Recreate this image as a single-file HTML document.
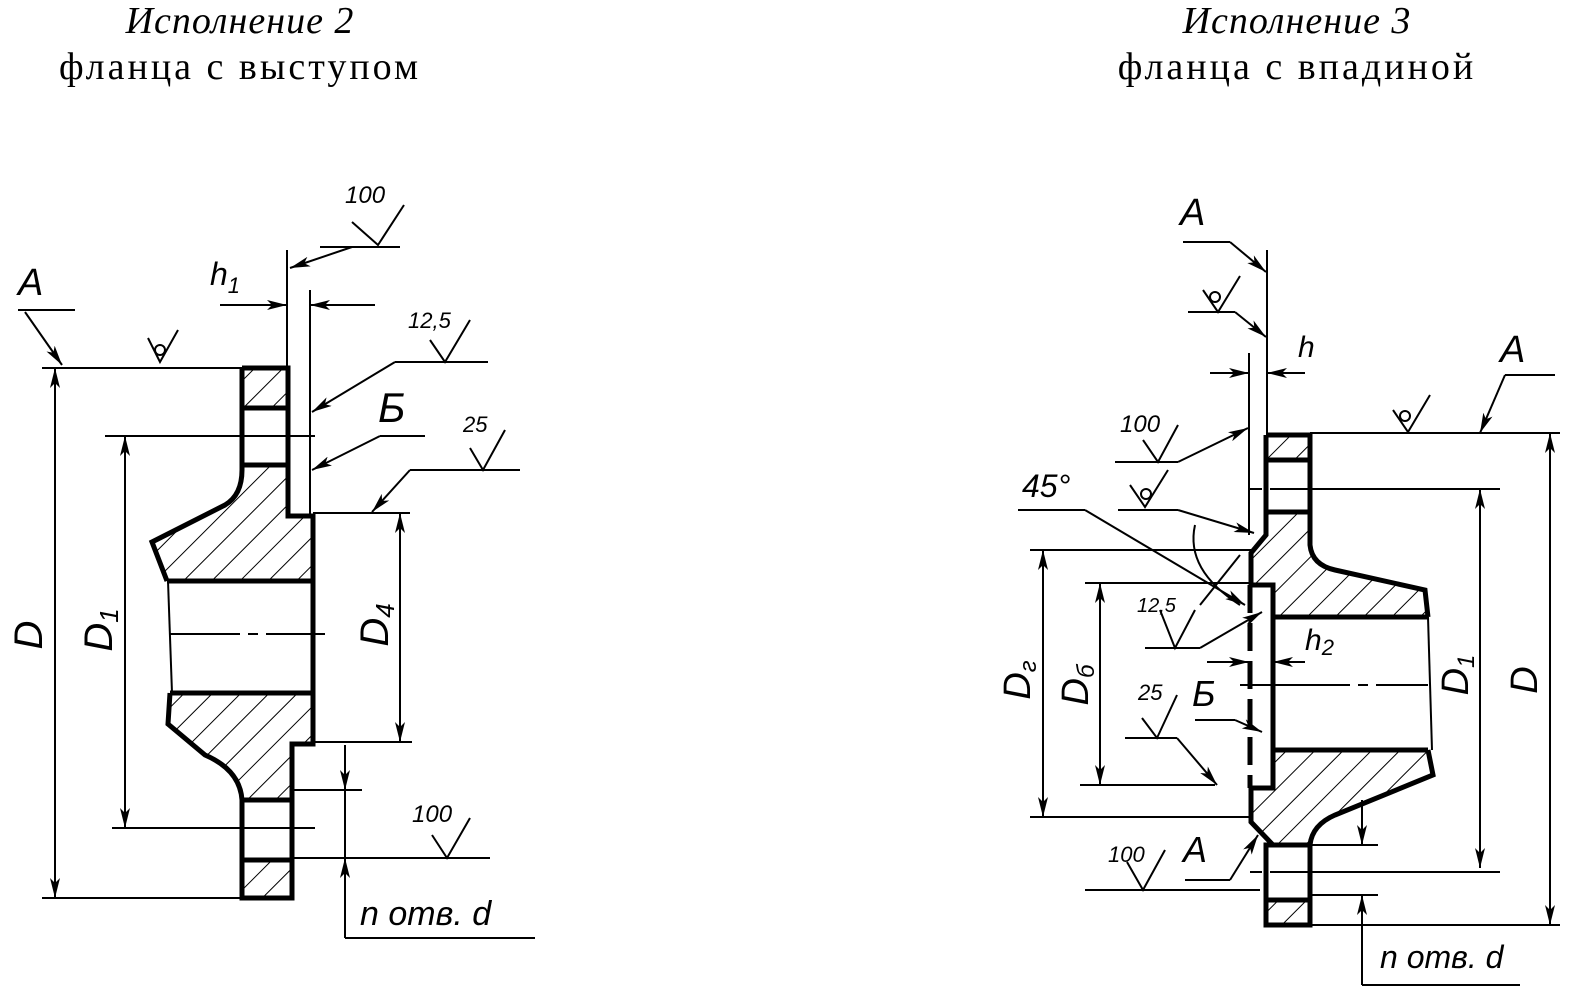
<!DOCTYPE html>
<html><head><meta charset="utf-8"><style>
html,body{margin:0;padding:0;background:#fff;}
svg{display:block}
.t{font-family:"Liberation Serif","DejaVu Serif",serif;fill:#000}
.i{font-family:"Liberation Sans","DejaVu Sans",sans-serif;font-style:italic;fill:#000}
</style></head><body>
<svg width="1577" height="998" viewBox="0 0 1577 998" xmlns="http://www.w3.org/2000/svg">
<defs>
<pattern id="h" patternUnits="userSpaceOnUse" width="20" height="20" patternTransform="rotate(45)">
<line x1="0" y1="0" x2="0" y2="20" stroke="#000" stroke-width="2"/>
</pattern>
<marker id="a" viewBox="0 0 20 10" refX="20" refY="5" markerWidth="20" markerHeight="10" markerUnits="userSpaceOnUse" orient="auto">
<path d="M0,0 L20,5 L0,10 L5,5 Z" fill="#000"/>
</marker>
</defs>

<!-- Titles -->
<text class="t" x="240" y="33" text-anchor="middle" font-style="italic" font-size="38" letter-spacing="1">Исполнение 2</text>
<text class="t" x="240" y="79" text-anchor="middle" font-size="38" letter-spacing="3">фланца с выступом</text>
<text class="t" x="1297" y="33" text-anchor="middle" font-style="italic" font-size="38" letter-spacing="1">Исполнение 3</text>
<text class="t" x="1297" y="79" text-anchor="middle" font-size="38" letter-spacing="3">фланца с впадиной</text>

<g stroke="#000" fill="none" stroke-width="2">
<!-- ===== LEFT FLANGE ===== -->
<g fill="url(#h)" stroke="none">
<rect x="242" y="368" width="46" height="40"/>
<rect x="242" y="860" width="50" height="38"/>
<path d="M242,465 L288,465 L288,516 L313,516 L313,581 L167,581 L152,542 L225,505 Q242,495 242,470 Z"/>
<path d="M170,693 L313,693 L313,744 L292,744 L292,800 L242,800 Q240,770 205,755 L168,724 Z"/>
</g>
<g stroke-width="5">
<path d="M242,368 L288,368 L288,516 L313,516 L313,744 L292,744 L292,898 L242,898 L242,800 Q240,770 205,755 L168,724 L170,693"/>
<path d="M242,368 L242,470 Q242,495 225,505 L152,542 L167,581"/>
<line x1="167" y1="581" x2="313" y2="581"/>
<line x1="170" y1="693" x2="313" y2="693"/>
<line x1="242" y1="408" x2="288" y2="408"/>
<line x1="242" y1="465" x2="288" y2="465"/>
<line x1="242" y1="800" x2="292" y2="800"/>
<line x1="242" y1="860" x2="292" y2="860"/>
</g>
<line x1="168" y1="581" x2="172" y2="693"/>
<line x1="170" y1="634" x2="325" y2="634" stroke-dasharray="70,8,10,8"/>
<line x1="42" y1="368" x2="242" y2="368"/>
<line x1="42" y1="898" x2="242" y2="898"/>
<line x1="105" y1="436" x2="315" y2="436"/>
<line x1="112" y1="828" x2="315" y2="828"/>
<line x1="313" y1="513" x2="410" y2="513"/>
<line x1="313" y1="742" x2="412" y2="742"/>
<line x1="292" y1="790" x2="362" y2="790"/>
<line x1="292" y1="858" x2="490" y2="858"/>
<line x1="55" y1="630" x2="55" y2="368" marker-end="url(#a)"/>
<line x1="55" y1="630" x2="55" y2="898" marker-end="url(#a)"/>
<line x1="125" y1="630" x2="125" y2="436" marker-end="url(#a)"/>
<line x1="125" y1="630" x2="125" y2="828" marker-end="url(#a)"/>
<line x1="400" y1="630" x2="400" y2="513" marker-end="url(#a)"/>
<line x1="400" y1="630" x2="400" y2="742" marker-end="url(#a)"/>
<line x1="345" y1="745" x2="345" y2="938"/>
<line x1="345" y1="750" x2="345" y2="790" marker-end="url(#a)"/>
<line x1="345" y1="905" x2="345" y2="858" marker-end="url(#a)"/>
<line x1="345" y1="938" x2="535" y2="938"/>
<line x1="287" y1="250" x2="287" y2="368"/>
<line x1="310" y1="290" x2="310" y2="516"/>
<line x1="220" y1="305" x2="287" y2="305" marker-end="url(#a)"/>
<line x1="375" y1="305" x2="310" y2="305" marker-end="url(#a)"/>
<polyline points="18,310 75,310"/>
<line x1="25" y1="312" x2="62" y2="365" marker-end="url(#a)"/>
<path d="M148,338 L160,362 L178,330"/><circle cx="160" cy="350" r="5"/>
<path d="M352,222 L378,245 L404,205"/><polyline points="320,247 400,247"/>
<line x1="352" y1="247" x2="290" y2="268" marker-end="url(#a)"/>
<path d="M430,340 L445,362 L470,320"/><polyline points="395,362 488,362"/>
<line x1="395" y1="362" x2="312" y2="412" marker-end="url(#a)"/>
<polyline points="380,436 425,436"/>
<line x1="380" y1="436" x2="312" y2="470" marker-end="url(#a)"/>
<path d="M470,448 L483,470 L505,430"/><polyline points="410,470 520,470"/>
<line x1="410" y1="470" x2="372" y2="512" marker-end="url(#a)"/>
<path d="M432,835 L447,858 L470,818"/>

<!-- ===== RIGHT FLANGE ===== -->
<g fill="url(#h)" stroke="none">
<rect x="1266" y="435" width="44" height="25"/>
<rect x="1266" y="900" width="44" height="25"/>
<path d="M1266,512 L1310,512 L1310,545 Q1312,565 1335,570 L1425,590 L1428,617 L1273,617 L1273,585 L1251,585 L1251,553 L1266,535 Z"/>
<path d="M1273,750 L1428,750 L1433,775 L1335,815 Q1312,825 1310,845 L1273,845 L1251,822 L1251,788 L1273,788 Z"/>
</g>
<g stroke-width="5">
<path d="M1266,435 L1310,435 L1310,545 Q1312,565 1335,570 L1425,590 L1428,617"/>
<path d="M1266,435 L1266,535 L1251,553 L1251,585 L1273,585 L1273,788 L1251,788 L1251,822 L1273,845 L1266,845 L1266,925 L1310,925 L1310,845 Q1312,825 1335,815 L1433,775 L1428,750"/>
<line x1="1273" y1="617" x2="1428" y2="617"/>
<line x1="1273" y1="750" x2="1428" y2="750"/>
<line x1="1266" y1="460" x2="1310" y2="460"/>
<line x1="1266" y1="512" x2="1310" y2="512"/>
<line x1="1266" y1="845" x2="1310" y2="845"/>
<line x1="1266" y1="900" x2="1310" y2="900"/>
<line x1="1250" y1="585" x2="1250" y2="788" stroke-dasharray="28,10"/>
</g>
<line x1="1428" y1="617" x2="1432" y2="750"/>
<line x1="1240" y1="685" x2="1428" y2="685" stroke-dasharray="110,8,10,8"/>
<line x1="1250" y1="489" x2="1500" y2="489" stroke-dasharray="12,8,300,0"/>
<line x1="1250" y1="872" x2="1500" y2="872" stroke-dasharray="12,8,300,0"/>
<line x1="1310" y1="433" x2="1560" y2="433"/>
<line x1="1310" y1="925" x2="1560" y2="925"/>
<line x1="1030" y1="550" x2="1251" y2="550"/>
<line x1="1030" y1="817" x2="1251" y2="817"/>
<line x1="1085" y1="583" x2="1251" y2="583"/>
<line x1="1080" y1="785" x2="1215" y2="785"/>
<line x1="1310" y1="845" x2="1378" y2="845"/>
<line x1="1310" y1="895" x2="1378" y2="895"/>
<line x1="1550" y1="680" x2="1550" y2="433" marker-end="url(#a)"/>
<line x1="1550" y1="680" x2="1550" y2="925" marker-end="url(#a)"/>
<line x1="1480" y1="680" x2="1480" y2="489" marker-end="url(#a)"/>
<line x1="1480" y1="680" x2="1480" y2="868" marker-end="url(#a)"/>
<line x1="1043" y1="680" x2="1043" y2="550" marker-end="url(#a)"/>
<line x1="1043" y1="680" x2="1043" y2="817" marker-end="url(#a)"/>
<line x1="1100" y1="680" x2="1100" y2="583" marker-end="url(#a)"/>
<line x1="1100" y1="680" x2="1100" y2="785" marker-end="url(#a)"/>
<line x1="1362" y1="800" x2="1362" y2="845" marker-end="url(#a)"/>
<line x1="1362" y1="985" x2="1362" y2="895" marker-end="url(#a)"/>
<line x1="1362" y1="985" x2="1520" y2="985"/>
<line x1="1267" y1="250" x2="1267" y2="435"/>
<line x1="1249" y1="353" x2="1249" y2="535"/>
<line x1="1210" y1="373" x2="1249" y2="373" marker-end="url(#a)"/>
<line x1="1305" y1="373" x2="1267" y2="373" marker-end="url(#a)"/>
<line x1="1207" y1="662" x2="1249" y2="662" marker-end="url(#a)"/>
<line x1="1305" y1="662" x2="1273" y2="662" marker-end="url(#a)"/>
<polyline points="1183,242 1230,242"/>
<line x1="1230" y1="242" x2="1266" y2="272" marker-end="url(#a)"/>
<path d="M1203,290 L1218,312 L1240,276"/><circle cx="1215" cy="297" r="5"/>
<polyline points="1188,312 1235,312"/>
<line x1="1235" y1="312" x2="1266" y2="337" marker-end="url(#a)"/>
<polyline points="1505,375 1555,375"/>
<line x1="1505" y1="375" x2="1480" y2="433" marker-end="url(#a)"/>
<path d="M1393,410 L1408,432 L1430,395"/><circle cx="1405" cy="416" r="5"/>
<path d="M1143,440 L1158,462 L1178,425"/><polyline points="1115,462 1178,462"/>
<line x1="1178" y1="462" x2="1248" y2="428" marker-end="url(#a)"/>
<path d="M1130,485 L1145,507 L1168,470"/><circle cx="1146" cy="494" r="5"/>
<polyline points="1118,510 1178,510"/>
<line x1="1178" y1="510" x2="1254" y2="533" marker-end="url(#a)"/>
<polyline points="1018,510 1085,510"/>
<line x1="1085" y1="510" x2="1245" y2="605" marker-end="url(#a)"/>
<path d="M1195,525 Q1185,570 1240,605" />
<line x1="1240" y1="555" x2="1200" y2="605"/>
<path d="M1160,610 L1175,648 L1195,610"/><polyline points="1145,648 1200,648"/>
<line x1="1200" y1="648" x2="1262" y2="612" marker-end="url(#a)"/>
<polyline points="1195,720 1235,720"/>
<line x1="1235" y1="720" x2="1262" y2="732" marker-end="url(#a)"/>
<path d="M1142,718 L1157,738 L1177,695"/><polyline points="1125,738 1177,738"/>
<line x1="1177" y1="738" x2="1217" y2="785" marker-end="url(#a)"/>
<polyline points="1185,880 1230,880"/>
<line x1="1230" y1="880" x2="1258" y2="835" marker-end="url(#a)"/>
<path d="M1127,862 L1143,890 L1165,850"/><polyline points="1085,890 1260,890"/>
</g>

<g class="i">
<text x="18" y="295" font-size="38">A</text>
<text x="210" y="285" font-size="32">h<tspan font-size="22" dy="8">1</tspan></text>
<text x="345" y="203" font-size="24">100</text>
<text x="408" y="328" font-size="22">12,5</text>
<text x="378" y="422" font-size="42">Б</text>
<text x="463" y="432" font-size="22">25</text>
<text x="412" y="822" font-size="24">100</text>
<text x="360" y="925" font-size="34">n отв. d</text>
<text transform="translate(42,635) rotate(-90)" font-size="40" text-anchor="middle">D</text>
<text transform="translate(112,630) rotate(-90)" font-size="40" text-anchor="middle">D<tspan font-size="26" dy="6">1</tspan></text>
<text transform="translate(388,625) rotate(-90)" font-size="40" text-anchor="middle">D<tspan font-size="26" dy="6">4</tspan></text>

<text x="1180" y="225" font-size="38">A</text>
<text x="1298" y="357" font-size="30">h</text>
<text x="1500" y="362" font-size="38">A</text>
<text x="1120" y="432" font-size="24">100</text>
<text x="1022" y="497" font-size="32">45°</text>
<text x="1137" y="612" font-size="20">12,5</text>
<text x="1305" y="650" font-size="30">h<tspan font-size="22" dy="5">2</tspan></text>
<text x="1192" y="706" font-size="36">Б</text>
<text x="1138" y="700" font-size="22">25</text>
<text x="1183" y="862" font-size="36">A</text>
<text x="1108" y="862" font-size="22">100</text>
<text x="1380" y="968" font-size="32">n отв. d</text>
<text transform="translate(1030,680) rotate(-90)" font-size="38" text-anchor="middle">D<tspan font-size="24" dy="6">г</tspan></text>
<text transform="translate(1088,685) rotate(-90)" font-size="38" text-anchor="middle">D<tspan font-size="24" dy="6">б</tspan></text>
<text transform="translate(1468,675) rotate(-90)" font-size="38" text-anchor="middle">D<tspan font-size="24" dy="6">1</tspan></text>
<text transform="translate(1537,680) rotate(-90)" font-size="38" text-anchor="middle">D</text>
</g>
</svg>
</body></html>
